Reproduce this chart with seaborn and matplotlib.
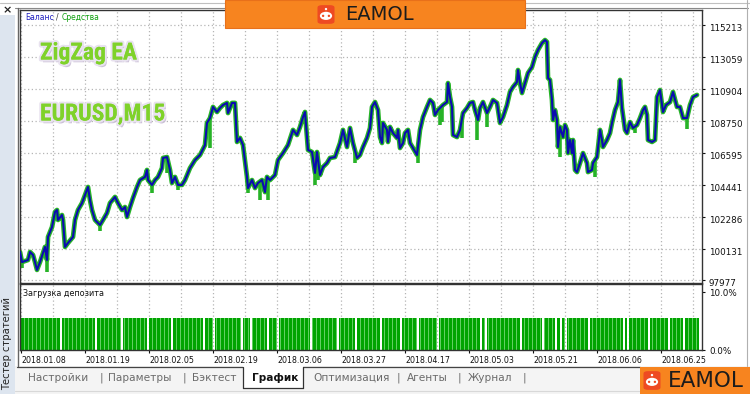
import matplotlib
matplotlib.use("Agg")
import matplotlib.pyplot as plt
import matplotlib.patheffects as pe
from matplotlib.patches import Rectangle, FancyBboxPatch, Ellipse
from matplotlib.lines import Line2D
from matplotlib.transforms import ScaledTranslation
from matplotlib import font_manager
import seaborn as sns
import numpy as np
import pandas as pd

# ---------------- data ----------------
trade = [0, 2, 8, 10, 13, 15, 17, 20, 23, 25, 27, 28, 32, 35, 37, 38, 42, 43, 45, 48,
         53, 55, 58, 62, 65, 68, 70, 72, 75, 80, 83, 87, 90, 95, 98, 102, 105, 107, 110, 113,
         117, 120, 125, 127, 128, 132, 135, 138, 142, 143, 147, 150, 152, 155, 158, 162, 165, 170, 175,
         180, 185, 187, 190, 193, 197, 200, 203, 207, 208, 212, 215, 217, 220, 223, 227, 228, 232, 235, 238,
         242, 245, 247, 250, 255, 258, 263, 268, 273, 277, 280, 283, 285, 288, 292, 295, 297, 300, 303, 307,
         310, 315, 320, 323, 327, 330, 333, 337, 340, 343, 347, 350,
         352, 355, 358, 360, 362, 363, 367, 368, 370, 373, 377, 378, 380, 383, 385, 388, 390, 393, 397, 400,
         403, 407, 410, 413, 415, 418, 423, 427, 428, 430, 432, 433, 437, 440, 443, 447, 450, 453, 455, 458,
         460, 463, 467, 470, 473, 477, 480, 483, 487, 490, 493, 497, 498, 500, 502, 505, 508, 512, 515, 518,
         522, 525,
         527, 528, 530, 532, 533, 535, 537, 538, 540, 543, 545, 547, 548, 550, 552, 553, 555, 557, 560, 563,
         565, 567, 568, 572, 573, 577, 580, 582, 583, 587, 590, 592, 595, 598, 600, 602, 605, 607, 610, 613,
         617, 620, 623, 625, 627, 628, 632, 635, 637, 640, 643, 646, 650, 653, 657, 660, 663, 667, 670, 673,
         677]
balance = [99900, 99220, 99360, 99900, 99700, 99220, 98690, 99220, 99830, 100240,
           99360, 100910, 101580, 102600, 102730, 102060, 102390, 102060, 100240, 100510,
           100910, 102060, 102730, 103200, 103740, 104280, 103400, 102730, 102060, 101720,
           102060, 102530, 103200, 103610, 103200, 102730, 102930, 102260, 102930, 103540,
           104280, 104750, 104960, 105430, 104750, 104420, 104750, 104960, 105560, 106240,
           106300, 105430, 104550, 104960, 104420, 104420, 104750, 105560, 106100,
           106440, 107110, 108600, 108930, 109680, 109340, 109610, 109810, 109950, 109270,
           109950, 109950, 107320, 107590, 107110, 104960, 104210, 104750, 104210, 104550,
           104750, 103940, 104960, 104750, 105090, 106100, 106570, 107110, 108130, 107790,
           108330, 109000, 109340, 106780, 106640, 105230, 106640, 105090, 105630, 105900,
           106240, 106300, 107250, 108130, 106980, 108260, 107250, 106240, 106440, 106980,
           107590, 108260,
           109680, 110010, 109470, 107650, 107250, 108600, 108130, 107320, 108330, 107920,
           107590, 108130, 106910, 107250, 107920, 108130, 107250, 106910, 106440, 108130,
           109000, 109680, 110150, 109950, 109140, 109470, 109810, 110010, 111290, 110350,
           109680, 107790, 107650, 108130, 109270, 109610, 109950, 110010, 109470, 108800,
           109610, 110010, 109270, 109680, 110150, 109950, 108600, 109000, 109810, 110690,
           111030, 111360, 112170, 111290, 110620, 111290, 111970, 112370, 113050, 113520,
           113990, 114190,
           114060, 111630, 111500, 110150, 108800, 109470, 108800, 106980, 108330, 107650,
           108460, 108130, 106570, 107450, 106570, 107450, 105430, 105290, 105900, 106570,
           106240, 105900, 105290, 105430, 105900, 106300, 108130, 107450, 106980, 107450,
           107920, 108600, 109470, 110010, 111500, 109610, 108130, 107920, 108660, 108260,
           108460, 108930, 109470, 109680, 109140, 107450, 107320, 107450, 110350, 110820,
           109340, 109810, 110010, 110690, 109680, 109680, 108930, 108930, 109810, 110350,
           110490]

# equity lows during open positions
spike_trade = [2, 27, 80, 132, 147, 158, 190, 228, 240, 248, 295, 298, 335, 398,
               420, 422, 442, 457, 467, 540, 575, 615, 667]
spike_equity = [98820, 98550, 101300, 103880, 105230, 104080, 106910, 103880, 103400, 103400,
                104420, 104750, 105900, 105900, 108460, 108660, 107590, 107450, 108330,
                106300, 104960, 107920, 108200]

# deposit load (%) and trades without open positions
load_pct = 5.5
load_gaps = [40, 75, 101, 127, 151, 183, 193, 221, 230, 247, 257, 290, 317, 335, 360,
             380, 397, 417, 460, 465, 500, 522, 535, 540, 545, 568, 603, 607, 628, 648, 663]

ytick_values = [97977, 100131, 102286, 104441, 106595, 108750, 110904, 113059, 115213]
load_ticks = [0, 10]
load_tick_labels = ["0.0%", "10.0%"]
date_labels = ["2018.01.08", "2018.01.19", "2018.02.05", "2018.02.19", "2018.03.06",
               "2018.03.27", "2018.04.17", "2018.05.03", "2018.05.21", "2018.06.06", "2018.06.25"]
tab_labels = ["Настройки", "Параметры", "Бэктест", "График", "Оптимизация", "Агенты", "Журнал"]

assert len(trade) == len(balance)
assert len(spike_trade) == len(spike_equity)

# ---------------- style ----------------
sns.set_theme(style="white")
plt.rcParams["font.family"] = ["DejaVu Sans"]

# pick a narrow font for the captions if one is installed
installed = {f.name for f in font_manager.fontManager.ttflist}
narrow_candidates = ["Roboto Condensed", "Liberation Sans Narrow", "Open Sans Condensed",
                     "DejaVu Sans Condensed"]
narrow = next((n for n in narrow_candidates if n in installed), None)
cond_stretch = any(("Condensed" in f.fname or "condensed" == f.stretch) and f.name == "DejaVu Sans"
                   for f in font_manager.fontManager.ttflist)
if narrow is not None:
    CAP_FAMILY, CAP_SIZE, CAP_STRETCH = [narrow, "DejaVu Sans"], 17, "normal"
elif cond_stretch:
    CAP_FAMILY, CAP_SIZE, CAP_STRETCH = ["DejaVu Sans"], 15.5, "condensed"
else:
    CAP_FAMILY, CAP_SIZE, CAP_STRETCH = ["DejaVu Sans"], 13, "normal"

BLUE = "#0b0bb0"
GREEN = "#27b327"
BAR_DARK = "#00a400"
BAR_LIGHT = "#62cf62"
GRID = "#b5b5b5"

W, H = 750, 394
fig = plt.figure(figsize=(7.5, 3.94), dpi=100)
fig.patch.set_facecolor("white")


def fx(px):
    return px / W


def fy(py):
    return 1 - py / H


# ---------------- main panel ----------------
ax = fig.add_axes([fx(20), fy(283), (702 - 20) / W, (283 - 10) / H])
df = pd.DataFrame({"trade": trade, "balance": balance})
sns.lineplot(data=df, x="trade", y="balance", ax=ax, color=GREEN, lw=3.4,
             sort=False, estimator=None, zorder=2)
ax.vlines(spike_trade, spike_equity, np.interp(spike_trade, trade, balance),
          color=GREEN, lw=2.6, zorder=2)
sns.lineplot(data=df, x="trade", y="balance", ax=ax, color=BLUE, lw=1.5,
             sort=False, estimator=None, zorder=3)

ax.set_xlim(0, 682)
ax.set_ylim(97808, 116217)
ax.set_xlabel("")
ax.set_ylabel("")
ax.set_xticks(np.arange(1, 682, 32))
ax.tick_params(axis="x", length=0, labelbottom=False)
ax.yaxis.tick_right()
ax.set_yticks(ytick_values)
ax.set_yticklabels([str(v) for v in ytick_values])
ax.tick_params(axis="y", right=True, length=2, width=0.8, pad=3, labelsize=6.3,
               colors="#111111")
for lbl in ax.get_yticklabels():
    lbl.set_transform(lbl.get_transform() + ScaledTranslation(0, -0.025, fig.dpi_scale_trans))
ax.grid(True, linestyle=(0, (1, 2)), color=GRID, lw=0.9)
for s in ax.spines.values():
    s.set_color("#333333")
    s.set_linewidth(1.0)

# ---------------- deposit load panel ----------------
ax2 = fig.add_axes([fx(20), fy(350), (702 - 20) / W, (350 - 284) / H])
all_t = np.arange(1, 679)
excluded = set()
for g in load_gaps:
    excluded.update([g, g + 1])
loaded = np.array([t for t in all_t if t not in excluded])
bar_colors = [BAR_LIGHT if t % 4 == 0 else BAR_DARK for t in loaded]
ax2.bar(loaded, [load_pct] * len(loaded), width=1.0, color=bar_colors,
        linewidth=0, zorder=2)
ax2.set_xlim(0, 682)
ax2.set_ylim(0, 11.4)
ax2.set_xticks(np.arange(1, 682, 64))
ax2.set_xticklabels(date_labels)
ax2.set_xticks(np.arange(33, 682, 64), minor=True)
ax2.tick_params(axis="x", which="major", bottom=True, length=2, width=0.8, pad=2,
                labelsize=5.7, colors="#111111")
ax2.tick_params(axis="x", which="minor", bottom=False, length=0)
for lbl in ax2.get_xticklabels():
    lbl.set_horizontalalignment("left")
ax2.yaxis.tick_right()
ax2.set_yticks(load_ticks)
ax2.set_yticklabels(load_tick_labels)
ax2.tick_params(axis="y", right=True, length=2, width=0.8, pad=3, labelsize=6.3,
                colors="#111111")
ax2.grid(True, axis="x", which="both", linestyle=(0, (1, 2)), color=GRID, lw=0.9)
ax2.grid(False, axis="y")
for s in ax2.spines.values():
    s.set_color("#333333")
    s.set_linewidth(1.0)
ax2.text(0.004, 0.86, "Загрузка депозита", transform=ax2.transAxes, fontsize=5.8,
         color="#111111", va="center", ha="left")

# ---------------- legend text ----------------
fig.text(fx(25), fy(17), "Баланс", color="#2020c0", fontsize=5.5, va="center", ha="left")
fig.text(fx(56), fy(17), "/", color="#333333", fontsize=5.5, va="center", ha="left")
fig.text(fx(62), fy(17), "Средства", color="#10a010", fontsize=5.5, va="center", ha="left")

# ---------------- overlay captions ----------------
cap_fx = [pe.SimplePatchShadow(offset=(1.5, -2), shadow_rgbFace="#b9a9c9", alpha=0.7),
          pe.withStroke(linewidth=3, foreground="#e8e2ef"), pe.Normal()]
for txt, ypx in (("ZigZag EA", 53), ("EURUSD,M15", 114)):
    fig.text(fx(40), fy(ypx), txt, color="#7fd22a", fontsize=CAP_SIZE, fontweight="bold",
             family=CAP_FAMILY, fontstretch=CAP_STRETCH, va="center", ha="left",
             path_effects=cap_fx, zorder=20)

# ---------------- window chrome ----------------
def frect(x0, y0, x1, y1, **kw):
    r = Rectangle((fx(x0), fy(y1)), (x1 - x0) / W, (y1 - y0) / H,
                  transform=fig.transFigure, **kw)
    fig.add_artist(r)
    return r


def fline(x0, y0, x1, y1, **kw):
    fig.add_artist(Line2D([fx(x0), fx(x1)], [fy(y0), fy(y1)], transform=fig.transFigure, **kw))


# top frame lines
fline(0, 2.5, 750, 2.5, color="#c0c0c0", lw=0.8)
fline(15, 7.5, 748, 7.5, color="#8a8a8a", lw=0.8)
fline(747, 0, 747, 366, color="#b0b0b0", lw=0.8)
# left strip
frect(0, 15, 15, 394, facecolor="#dde5ef", edgecolor="none", zorder=1)
fline(17.5, 8, 17.5, 366, color="#666666", lw=1.0)
fig.text(fx(7), fy(10), "×", fontsize=8, fontweight="bold", color="#222222",
         ha="center", va="center")
fig.text(fx(7.5), fy(343), "Тестер стратегий", fontsize=7.2, color="#222222",
         rotation=90, ha="center", va="center")

# bottom tab strip
frect(15, 366, 750, 394, facecolor="#f4f4f4", edgecolor="none", zorder=1)
fline(17, 366.5, 243, 366.5, color="#444444", lw=0.9)
fline(303, 366.5, 640, 366.5, color="#444444", lw=0.9)
frect(243, 366, 303, 388, facecolor="white", edgecolor="none", zorder=2)
fline(243, 366.5, 243, 388, color="#333333", lw=0.9)
fline(303, 366.5, 303, 388, color="#333333", lw=0.9)
fline(243, 388, 303, 388, color="#333333", lw=0.9)
fline(15, 390.5, 640, 390.5, color="#d8d8d8", lw=0.8)

tab_x = [28, 108, 192, 252, 313, 407, 468]
sep_x = [101, 184, 398, 459, 524]
for lab, x in zip(tab_labels, tab_x):
    active = lab == "График"
    fig.text(fx(x), fy(378), lab, fontsize=7.6, ha="left", va="center",
             color="#111111" if active else "#6b6b6b",
             fontweight="bold" if active else "normal")
for x in sep_x:
    fig.text(fx(x), fy(378), "|", fontsize=7.6, ha="center", va="center", color="#6b6b6b")


# ---------------- EAMOL banners ----------------
def logo_icon(cx, cy, size):
    w = size / W
    h = size * 1.1 / H
    fig.add_artist(FancyBboxPatch((fx(cx) - w / 2, fy(cy) - h / 2), w, h,
                                  boxstyle="round,pad=0,rounding_size=0.006",
                                  transform=fig.transFigure, facecolor="#ee4a22",
                                  edgecolor="none", zorder=31))
    fig.add_artist(Ellipse((fx(cx), fy(cy + size * 0.08)), size * 0.72 / W, size * 0.48 / H,
                           transform=fig.transFigure, facecolor="white", edgecolor="none",
                           zorder=32))
    for dx in (-0.17, 0.17):
        fig.add_artist(Ellipse((fx(cx + dx * size), fy(cy + size * 0.08)), size * 0.14 / W,
                               size * 0.14 / H, transform=fig.transFigure,
                               facecolor="#ee4a22", edgecolor="none", zorder=33))
    fig.add_artist(Ellipse((fx(cx), fy(cy - size * 0.32)), size * 0.14 / W, size * 0.14 / H,
                           transform=fig.transFigure, facecolor="white", edgecolor="none",
                           zorder=32))


frect(225, 0, 525, 28, facecolor="#f7841f", edgecolor="#e8701a", lw=0.8, zorder=30)
logo_icon(326, 14.5, 17)
fig.text(fx(345), fy(15), "EAMOL", fontsize=14, color="#1c1c1c", ha="left", va="center",
         zorder=34)

frect(640, 367, 750, 394, facecolor="#f7841f", edgecolor="none", zorder=30)
logo_icon(652, 380.5, 17)
fig.text(fx(668), fy(381), "EAMOL", fontsize=15.5, color="#1c1c1c", ha="left",
         va="center", zorder=34)

fig.savefig("out.png", dpi=100, facecolor=fig.get_facecolor())
